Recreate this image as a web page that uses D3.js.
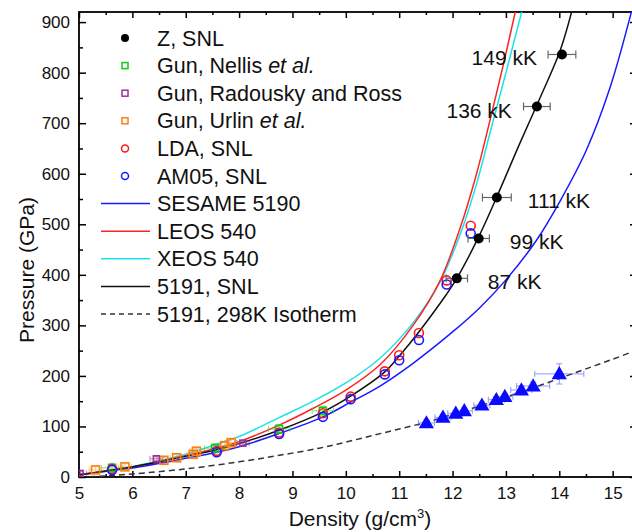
<!DOCTYPE html>
<html>
<head lang="en">
  <meta charset="UTF-8">
  <title>Pressure vs density</title>
</head>
<style>
  body { margin: 0; background: #fff; }
  svg text { font-family: "Liberation Sans", Arial, sans-serif; fill: #111; }
  .axis text { font-size: 17px; }
  .axis path { display: none; }
  .axis line { stroke: #000; stroke-width: 1.5; }
</style>
<body>

<svg id="chart" width="632" height="532"></svg>

<script src="https://cdn.jsdelivr.net/npm/d3@7"></script>
<script>
  // Z, SNL (density, pressure, density error)
  var zD   = [12.08, 12.49, 12.83, 13.58, 14.05];
  var zP   = [393, 472, 553, 733, 836];
  var zErr = [0.2, 0.2, 0.27, 0.25, 0.26];
  var zTemps = ['87 kK', '99 kK', '111 kK', '136 kK', '149 kK'];

  // gun data
  var nellisD = [5.62, 7.55, 8.75, 9.57];
  var nellisP = [18, 57, 95, 131];
  var radouskyD = [5.02, 6.45, 8.07];
  var radouskyP = [7, 36, 67];
  var urlinD = [5.31, 5.86, 6.59, 6.83, 7.14, 7.2, 7.73, 7.85];
  var urlinP = [14, 20, 33, 38, 45, 51, 62, 68];

  // DFT points
  var ldaD  = [5.62, 7.58, 8.75, 9.57, 10.09, 10.73, 11.0, 11.37, 11.89, 12.34];
  var ldaP  = [16, 52, 88, 126, 159, 209, 241, 285, 389, 497];
  var am05D = [5.62, 7.58, 8.75, 9.57, 10.09, 10.73, 11.0, 11.37, 11.89, 12.34];
  var am05P = [14, 49, 85, 119, 154, 203, 231, 271, 381, 482];

  // triangles on the isotherm (density, pressure, density error, pressure error)
  var triD  = [11.51, 11.82, 12.06, 12.22, 12.55, 12.82, 12.98, 13.29, 13.51, 14.0];
  var triP  = [107, 118, 126, 131, 142, 153, 159, 172, 180, 204];
  var triDx = [0.15, 0.15, 0.15, 0.15, 0.15, 0.15, 0.15, 0.2, 0.31, 0.46];
  var triDy = [6, 6, 6, 6, 6, 6, 6, 8, 8, 20];

  // model curves
  var sesameD = [5.0, 5.62, 6, 7, 7.58, 8, 8.75, 9.57, 10.09, 10.64, 11.26, 12.0, 12.51, 13.0, 13.57, 14.02, 14.5, 14.95, 15.4];
  var sesameP = [4, 13, 18, 37, 49, 60, 86, 119, 148, 180, 225, 287, 335, 390, 468, 547, 645, 770, 940];
  var leosD = [5.0, 6, 7, 7.5, 8, 8.76, 9.39, 10.0, 10.64, 11.26, 11.76, 12.15, 12.45, 12.7, 12.95, 13.2];
  var leosP = [5, 20, 42, 55, 70, 103, 136, 172, 222, 300, 387, 495, 600, 705, 815, 932];
  var xeosD = [5.0, 6, 7, 7.5, 8, 8.76, 9.39, 10.0, 10.64, 11.26, 11.76, 12.15, 12.45, 12.7, 13.0, 13.32];
  var xeosP = [5, 21, 45, 62, 80, 118, 150, 186, 235, 305, 385, 482, 580, 680, 800, 930];
  var snlD = [5.0, 5.62, 6, 6.5, 7, 7.58, 8, 8.76, 9.575, 10.09, 10.73, 10.99, 11.39, 11.89, 12.08, 12.48, 12.82, 13.26, 13.63, 14.02, 14.25];
  var snlP = [4, 14, 20, 30, 41, 54, 66, 93, 129, 160, 208, 238, 290, 362, 393, 473, 552, 660, 748, 845, 928];
  var isoD = [5.0, 5.5, 6, 7, 8, 8.76, 9.5, 10, 10.5, 11, 11.5, 12, 12.5, 13, 13.5, 14, 14.5, 15, 15.4];
  var isoP = [0, 2, 6, 16, 30, 43, 57, 69, 82, 95, 108, 124, 140, 158, 176, 195, 214, 233, 249];

  var xTicks = d3.range(5, 16);
  var yTicks = d3.range(0, 1000, 100);

  var pLeft = 79, pRight = 634, pTop = 12, pBottom = 477;

  var x = d3.scaleLinear().domain([5, 15.4]).range([pLeft, pRight]);
  var y = d3.scaleLinear().domain([0, 920]).range([pBottom, pTop]);

  var svg = d3.select('#chart');

  svg.append('clipPath').attr('id', 'plot')
    .append('rect')
    .attr('x', pLeft).attr('y', pTop)
    .attr('width', pRight - pLeft).attr('height', pBottom - pTop);

  // axes, ticks point inwards
  addAxis(d3.axisBottom(x).tickValues(xTicks).tickSizeInner(-6).tickSizeOuter(0).tickPadding(10), 0, pBottom);
  addAxis(d3.axisBottom(x).tickValues(d3.range(5.5, 15.5, 1)).tickSize(-3).tickFormat(''), 0, pBottom);
  addAxis(d3.axisTop(x).tickValues(xTicks).tickSizeInner(-6).tickSizeOuter(0).tickFormat(''), 0, pTop);
  addAxis(d3.axisTop(x).tickValues(d3.range(5.5, 15.5, 1)).tickSize(-3).tickFormat(''), 0, pTop);
  addAxis(d3.axisLeft(y).tickValues(yTicks).tickSizeInner(-7).tickSizeOuter(0).tickPadding(9), pLeft, 0);
  addAxis(d3.axisLeft(y).tickValues(d3.range(50, 950, 100)).tickSize(-4).tickFormat(''), pLeft, 0);
  addAxis(d3.axisRight(y).tickValues(yTicks).tickSize(-4).tickFormat(''), pRight, 0);

  svg.append('rect')
    .attr('x', pLeft).attr('y', pTop)
    .attr('width', pRight - pLeft).attr('height', pBottom - pTop)
    .attr('fill', 'none').attr('stroke', '#000').attr('stroke-width', 1.8);

  var xl = svg.append('text')
    .attr('x', 360).attr('y', 526)
    .attr('text-anchor', 'middle')
    .style('font-size', '21px')
    .text('Density (g/cm');
  xl.append('tspan').attr('dy', -8).style('font-size', '13px').text('3');
  xl.append('tspan').attr('dy', 8).text(')');

  svg.append('text')
    .attr('transform', 'translate(34,270) rotate(-90)')
    .attr('text-anchor', 'middle')
    .style('font-size', '21px')
    .text('Pressure (GPa)');

  // curves
  var plot = svg.append('g').attr('clip-path', 'url(#plot)');
  var line = d3.line()
    .x(function (d) { return x(d[0]); })
    .y(function (d) { return y(d[1]); })
    .curve(d3.curveCatmullRom.alpha(0.5));

  drawCurve(isoD, isoP, '#333', '6,4');
  drawCurve(sesameD, sesameP, '#1a1aff');
  drawCurve(xeosD, xeosP, '#19e3ea');
  drawCurve(leosD, leosP, '#ff2222');
  drawCurve(snlD, snlP, '#111');

  // error bars for the gun data and triangles
  errorBars(urlinD, urlinP, 0.12, 6, '#ff8c1a', 0.5);
  errorBars(nellisD, nellisP, 0.2, 9, '#22dd22', 0.6);
  errorBars(radouskyD, radouskyP, 0.12, 4, '#993399', 0.6);
  errorBars(triD, triP, triDx, triDy, '#4455ff', 0.6);

  // points
  squares(urlinD, urlinP, '#ff7f0e', 8);
  squares(nellisD, nellisP, '#11cc11', 7);
  squares(radouskyD, radouskyP, '#993399', 6);
  circles(ldaD, ldaP, '#ff1a1a');
  circles(am05D, am05P, '#1a1aff');

  var tri = d3.symbol().type(d3.symbolTriangle).size(100);
  plot.selectAll('.tri')
    .data(d3.zip(triD, triP))
    .enter().append('path')
    .attr('transform', function (d) { return 'translate(' + x(d[0]) + ',' + (y(d[1]) + 1) + ')'; })
    .attr('d', tri)
    .attr('fill', '#0a0aff');

  // Z data with horizontal error bars
  var zg = svg.append('g');
  d3.zip(zD, zP, zErr).forEach(function (d) {
    var cy = y(d[1]);
    var x0 = x(d[0] - d[2]), x1 = x(d[0] + d[2]);
    zg.append('line').attr('x1', x0).attr('x2', x1).attr('y1', cy).attr('y2', cy)
      .attr('stroke', '#666').attr('stroke-width', 1.2);
    [x0, x1].forEach(function (xx) {
      zg.append('line').attr('x1', xx).attr('x2', xx).attr('y1', cy - 4).attr('y2', cy + 4)
        .attr('stroke', '#666').attr('stroke-width', 1.2);
    });
    zg.append('circle').attr('cx', x(d[0])).attr('cy', cy).attr('r', 5).attr('fill', '#000');
  });

  // temperature labels next to the Z points
  zTemps.forEach(function (t, i) {
    var onLeft = zP[i] > 700;
    svg.append('text')
      .attr('x', x(zD[i]) + (onLeft ? -25 : 31))
      .attr('y', y(zP[i]) + 11)
      .attr('text-anchor', onLeft ? 'end' : 'start')
      .style('font-size', '21px')
      .text(t);
  });

  // legend
  var legendItems = [
    { label: ['Z, SNL'], kind: 'dot', color: '#000' },
    { label: ['Gun, Nellis ', 'et al.'], kind: 'square', color: '#11cc11' },
    { label: ['Gun, Radousky and Ross'], kind: 'square', color: '#993399' },
    { label: ['Gun, Urlin ', 'et al.'], kind: 'square', color: '#ff7f0e' },
    { label: ['LDA, SNL'], kind: 'circle', color: '#ff1a1a' },
    { label: ['AM05, SNL'], kind: 'circle', color: '#1a1aff' },
    { label: ['SESAME 5190'], kind: 'line', color: '#1a1aff' },
    { label: ['LEOS 540'], kind: 'line', color: '#ff2222' },
    { label: ['XEOS 540'], kind: 'line', color: '#19e3ea' },
    { label: ['5191, SNL'], kind: 'line', color: '#111' },
    { label: ['5191, 298K Isotherm'], kind: 'dash', color: '#333' }
  ];

  var legend = svg.append('g');
  legendItems.forEach(function (item, i) {
    var ly = 38 + i * 27.6;
    if (item.kind === 'dot') {
      legend.append('circle').attr('cx', 125).attr('cy', ly).attr('r', 4).attr('fill', item.color);
    } else if (item.kind === 'square') {
      legend.append('rect').attr('x', 122).attr('y', ly - 3).attr('width', 6).attr('height', 6)
        .attr('fill', 'none').attr('stroke', item.color).attr('stroke-width', 1.5);
    } else if (item.kind === 'circle') {
      legend.append('circle').attr('cx', 125).attr('cy', ly).attr('r', 3.5)
        .attr('fill', 'none').attr('stroke', item.color).attr('stroke-width', 1.5);
    } else {
      legend.append('line').attr('x1', 101).attr('x2', 150).attr('y1', ly).attr('y2', ly)
        .attr('stroke', item.color).attr('stroke-width', 1.5)
        .attr('stroke-dasharray', item.kind === 'dash' ? '5,4' : null);
    }
    var t = legend.append('text').attr('x', 157).attr('y', ly + 7.5).style('font-size', '21.5px');
    t.append('tspan').text(item.label[0]);
    if (item.label[1]) t.append('tspan').style('font-style', 'italic').text(item.label[1]);
  });

  // Supporting functions

  function addAxis(axis, tx, ty) {
    svg.append('g')
      .attr('class', 'axis')
      .attr('transform', 'translate(' + tx + ',' + ty + ')')
      .call(axis);
  }

  function drawCurve(ds, ps, color, dash) {
    plot.append('path')
      .datum(d3.zip(ds, ps))
      .attr('d', line)
      .attr('fill', 'none')
      .attr('stroke', color)
      .attr('stroke-width', 1.5)
      .attr('stroke-dasharray', dash || null);
  }

  function errorBars(ds, ps, dx, dy, color, opacity) {
    var g = plot.append('g').attr('stroke', color).attr('stroke-width', 1).attr('opacity', opacity);
    ds.forEach(function (d, i) {
      var ex = Array.isArray(dx) ? dx[i] : dx;
      var ey = Array.isArray(dy) ? dy[i] : dy;
      var cx = x(d), cy = y(ps[i]);
      var x0 = x(d - ex), x1 = x(d + ex), y0 = y(ps[i] - ey), y1 = y(ps[i] + ey);
      g.append('line').attr('x1', x0).attr('x2', x1).attr('y1', cy).attr('y2', cy);
      g.append('line').attr('x1', cx).attr('x2', cx).attr('y1', y0).attr('y2', y1);
      g.append('line').attr('x1', x0).attr('x2', x0).attr('y1', cy - 3).attr('y2', cy + 3);
      g.append('line').attr('x1', x1).attr('x2', x1).attr('y1', cy - 3).attr('y2', cy + 3);
      g.append('line').attr('x1', cx - 3).attr('x2', cx + 3).attr('y1', y0).attr('y2', y0);
      g.append('line').attr('x1', cx - 3).attr('x2', cx + 3).attr('y1', y1).attr('y2', y1);
    });
  }

  function squares(ds, ps, color, size) {
    plot.selectAll(null)
      .data(d3.zip(ds, ps))
      .enter().append('rect')
      .attr('x', function (d) { return x(d[0]) - size / 2; })
      .attr('y', function (d) { return y(d[1]) - size / 2; })
      .attr('width', size).attr('height', size)
      .attr('fill', 'none').attr('stroke', color).attr('stroke-width', 1.6);
  }

  function circles(ds, ps, color) {
    plot.selectAll(null)
      .data(d3.zip(ds, ps))
      .enter().append('circle')
      .attr('cx', function (d) { return x(d[0]); })
      .attr('cy', function (d) { return y(d[1]); })
      .attr('r', 4.5)
      .attr('fill', 'none').attr('stroke', color).attr('stroke-width', 1.6);
  }

</script>
</body>
</html>
